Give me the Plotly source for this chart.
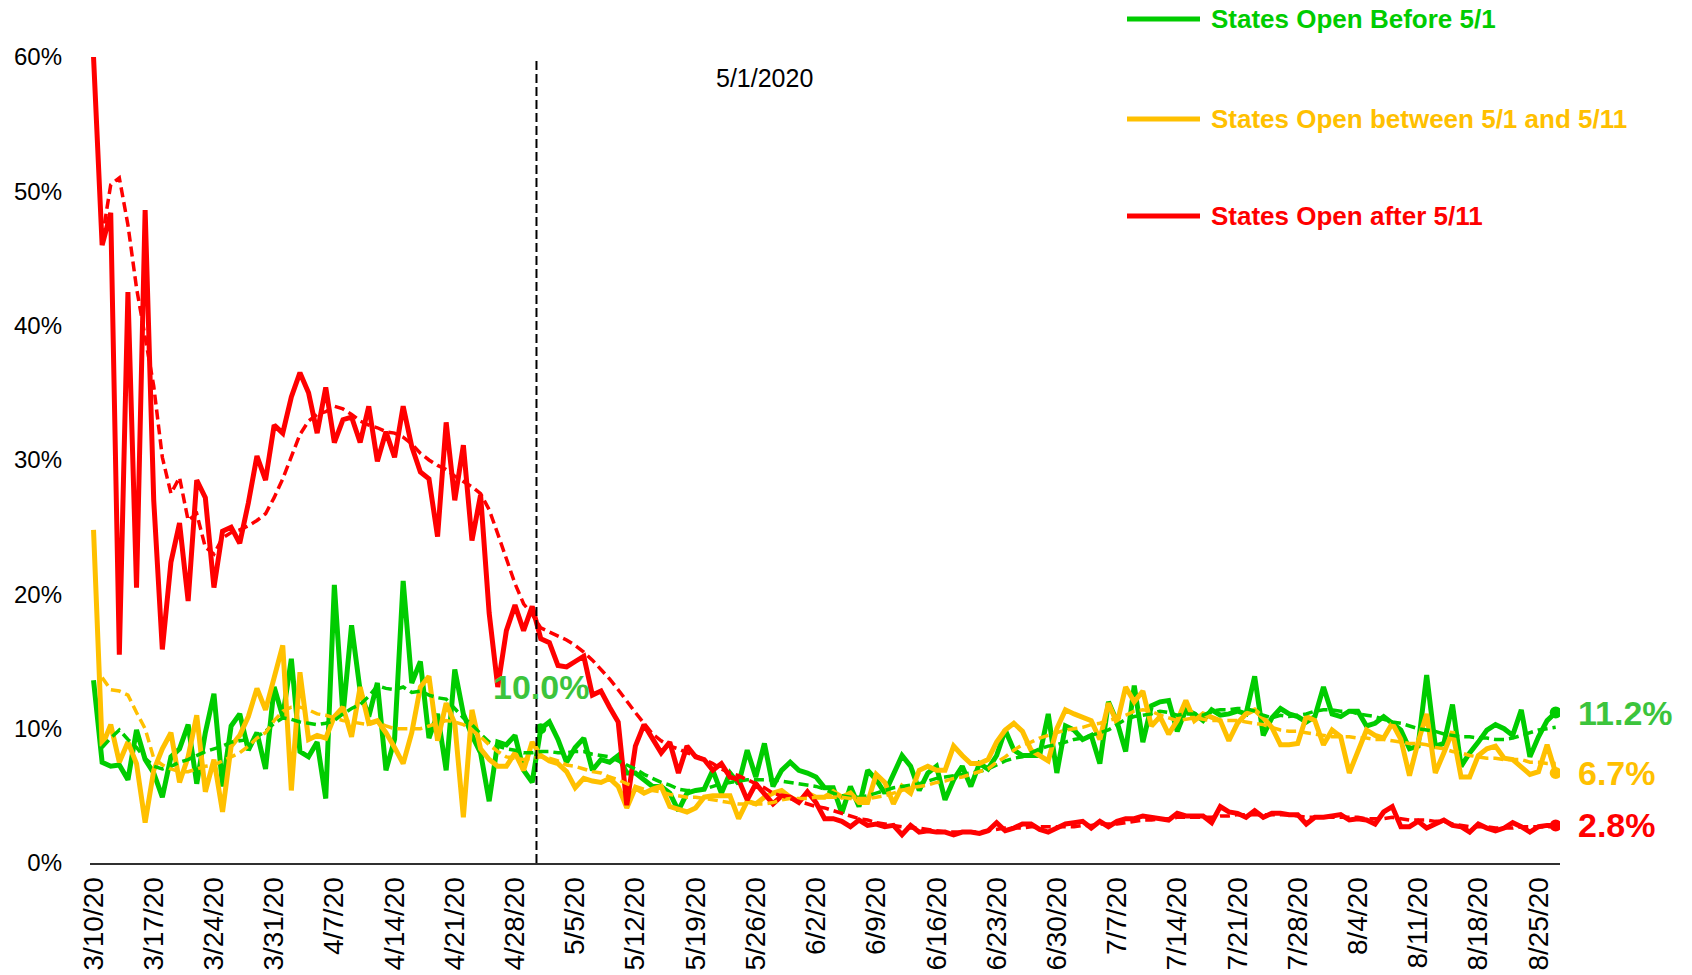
import pandas as pd
import plotly.graph_objects as go

# ---------------- data (percent) ----------------
START = "2020-03-10"
N_DAYS = 171

red = [
    60.0, 46.0, 48.4, 15.5, 42.5, 20.5, 48.6, 27.0, 15.9, 22.4,
    25.3, 19.5, 28.5, 27.2, 20.5, 24.7, 25.0, 23.8, 26.8, 30.3,
    28.5, 32.6, 32.0, 34.7, 36.5, 35.0, 32.0, 35.4, 31.3, 33.0,
    33.2, 31.3, 34.0, 29.9, 32.1, 30.2, 34.0, 31.0, 29.1, 28.6,
    24.3, 32.8, 27.0, 31.1, 24.0, 27.4, 18.6, 13.1, 17.3, 19.2,
    17.3, 19.1, 16.7, 16.4, 14.7, 14.6, 15.0, 15.4, 12.5, 12.8,
    11.6, 10.5, 4.3, 8.7, 10.3, 9.2, 8.2, 9.0, 6.7, 8.7,
    7.9, 7.7, 6.9, 7.4, 6.4, 6.2, 4.7, 5.9, 5.2, 4.4,
    5.0, 4.9, 4.5, 5.3, 4.5, 3.3, 3.3, 3.1, 2.7, 3.2,
    2.8, 2.9, 2.7, 2.8, 2.1, 2.8, 2.3, 2.4, 2.3, 2.3,
    2.1, 2.3, 2.3, 2.2, 2.4, 3.0, 2.4, 2.6, 2.9, 2.9,
    2.5, 2.3, 2.6, 2.9, 3.0, 3.1, 2.6, 3.1, 2.7, 3.1,
    3.3, 3.3, 3.5, 3.4, 3.3, 3.2, 3.7, 3.5, 3.5, 3.5,
    3.0, 4.2, 3.8, 3.7, 3.4, 3.9, 3.4, 3.7, 3.7, 3.6,
    3.6, 2.9, 3.4, 3.4, 3.5, 3.6, 3.2, 3.3, 3.2, 2.9,
    3.8, 4.2, 2.7, 2.7, 3.1, 2.6, 2.9, 3.2, 2.8, 2.7,
    2.3, 2.9, 2.6, 2.4, 2.6, 3.0, 2.7, 2.3, 2.7, 2.8,
    2.8,
]

red_avg = [
    None, 46.5, 50.5, 51.0, 47.5, 42.8, 39.0, 35.5, 30.2, 27.5,
    28.7, 25.5, 26.0, 23.5, 23.0, 24.2, 24.6, 24.8, 25.1, 25.5,
    26.0, 27.2, 28.6, 30.3, 31.9, 32.9, 33.4, 33.6, 34.0, 33.8,
    33.4, 32.9, 32.6, 32.4, 32.1, 32.0, 31.7, 31.2, 30.5, 30.0,
    29.6, 29.3, 28.8, 28.4, 28.0, 27.5, 26.3, 24.5, 22.7, 20.8,
    19.3, 18.5, 17.5, 17.2, 16.9, 16.6, 16.2, 15.7, 15.1, 14.4,
    13.7, 12.9, 12.0, 11.2, 10.4, 9.6, 9.1, 8.7, 8.5, 8.2,
    8.0, 7.7, 7.4, 7.0, 6.7, 6.5, 6.2, 5.9, 5.6, 5.2,
    5.0, 4.8, 4.6, 4.4, 4.2, 4.1, 3.9, 3.7, 3.5, 3.3,
    3.2, 3.0, 2.9, 2.8, 2.7, 2.6, 2.6, 2.5, 2.4, 2.3,
    2.3, 2.3, 2.3, 2.3, 2.4, 2.5, 2.6, 2.6, 2.6, 2.7,
    2.7, 2.7, 2.7, 2.7, 2.7, 2.8, 2.8, 2.9, 2.9, 2.9,
    3.0, 3.1, 3.2, 3.2, 3.3, 3.3, 3.4, 3.4, 3.4, 3.4,
    3.4, 3.5, 3.5, 3.6, 3.6, 3.6, 3.6, 3.6, 3.6, 3.6,
    3.5, 3.4, 3.4, 3.4, 3.4, 3.4, 3.4, 3.4, 3.3, 3.3,
    3.3, 3.4, 3.3, 3.2, 3.2, 3.2, 3.1, 3.1, 2.9, 2.8,
    2.7, 2.7, 2.7, 2.6, 2.6, 2.6, 2.7, 2.7, 2.7, 2.7,
    2.7,
]

green = [
    13.6, 7.5, 7.2, 7.3, 6.2, 9.9, 7.7, 6.7, 4.9, 7.9,
    8.5, 10.3, 5.9, 9.7, 12.6, 5.7, 10.2, 11.1, 8.4, 9.7,
    7.0, 13.1, 10.9, 15.2, 8.3, 7.9, 9.0, 4.8, 20.7, 11.0,
    17.7, 12.8, 10.9, 13.4, 6.9, 9.2, 21.0, 13.4, 15.0, 9.3,
    11.1, 6.9, 14.4, 11.1, 9.5, 8.2, 4.6, 9.0, 8.8, 9.5,
    6.9, 6.0, 10.0, 10.5, 9.2, 7.5, 8.6, 9.3, 6.9, 7.7,
    7.5, 8.0, 6.7, 6.7, 6.2, 5.7, 5.7, 5.2, 3.9, 5.2,
    5.4, 5.5, 6.9, 5.2, 6.7, 5.9, 8.4, 6.4, 8.9, 5.7,
    6.9, 7.5, 6.9, 6.7, 6.4, 5.6, 5.6, 3.7, 5.7, 4.2,
    6.9, 6.2, 5.2, 6.7, 8.0, 7.2, 5.4, 6.7, 7.2, 4.7,
    6.2, 7.2, 5.7, 7.4, 7.0, 8.0, 9.9, 8.4, 8.0, 8.0,
    8.0, 11.1, 6.7, 10.2, 9.9, 9.2, 9.5, 7.4, 12.0, 10.5,
    8.3, 13.2, 9.0, 11.7, 12.0, 12.1, 9.8, 11.4, 11.1, 10.6,
    11.4, 11.0, 11.1, 11.3, 11.1, 13.9, 9.5, 10.8, 11.5, 11.1,
    10.9, 10.5, 10.9, 13.1, 11.1, 10.9, 11.3, 11.3, 10.2, 10.4,
    10.9, 10.4, 9.9, 8.5, 8.7, 14.0, 8.7, 8.9, 11.8, 7.2,
    8.2, 9.0, 9.9, 10.3, 10.0, 9.5, 11.4, 7.9, 9.4, 10.6,
    11.2,
]

green_avg = [
    None, 8.6, 9.3, 9.9, 9.2, 8.6, 7.8, 7.2, 7.0, 7.2,
    7.5, 7.7, 8.0, 8.3, 8.5, 8.7, 9.0, 9.1, 9.2, 9.4,
    9.8, 10.4, 10.8, 10.7, 10.5, 10.4, 10.3, 10.4, 10.6, 11.1,
    11.5, 11.8, 12.4, 13.2, 13.0, 12.9, 13.1, 12.7, 12.8, 12.5,
    12.3, 12.2, 11.5, 10.8, 10.3, 9.6, 9.0, 8.7, 8.5, 8.4,
    8.2, 8.2, 8.3, 8.3, 8.2, 8.2, 8.3, 8.3, 8.1, 8.0,
    7.9, 7.6, 7.3, 7.0, 6.6, 6.3, 6.0, 5.8, 5.5, 5.4,
    5.4, 5.5, 5.7, 5.9, 6.0, 6.1, 6.2, 6.2, 6.2, 6.2,
    6.1, 6.0, 5.9, 5.8, 5.7, 5.5, 5.2, 5.0, 4.9, 4.9,
    5.0, 5.2, 5.4, 5.6, 5.7, 5.8, 5.9, 6.1, 6.3, 6.4,
    6.5, 6.6, 6.7, 6.8, 7.0, 7.3, 7.6, 7.8, 7.9, 8.2,
    8.5, 8.7, 8.8, 9.0, 9.2, 9.3, 9.5, 9.7, 9.9, 10.3,
    10.7, 10.9, 11.0, 11.1, 11.3, 11.2, 11.0, 11.1, 11.1, 11.0,
    11.3, 11.4, 11.4, 11.5, 11.5, 11.3, 11.0, 10.8, 11.0, 10.9,
    11.0, 11.1, 11.3, 11.4, 11.4, 11.3, 11.3, 11.1, 11.0, 10.9,
    10.7, 10.5, 10.4, 10.2, 10.0, 9.9, 9.8, 9.6, 9.5, 9.4,
    9.4, 9.3, 9.3, 9.2, 9.2, 9.3, 9.5, 9.7, 9.9, 10.0,
    10.1,
]

yellow = [
    24.8, 8.7, 10.3, 7.5, 9.0, 7.4, 3.0, 6.9, 8.5, 9.7,
    6.0, 7.9, 11.0, 5.3, 7.7, 3.8, 8.7, 9.5, 10.9, 13.0,
    11.4, 13.8, 16.2, 5.4, 14.2, 9.2, 9.5, 9.3, 10.9, 11.6,
    9.4, 13.1, 10.4, 10.6, 9.7, 8.6, 7.4, 9.7, 13.1, 13.9,
    9.1, 11.9, 10.4, 3.4, 11.4, 8.5, 7.7, 7.2, 7.2, 8.2,
    6.9, 9.0, 8.0, 7.6, 7.4, 6.8, 5.6, 6.3, 6.1, 6.0,
    6.3, 5.7, 4.1, 5.6, 5.2, 5.5, 5.7, 4.2, 4.0, 3.8,
    4.1, 4.9, 5.0, 5.0, 5.0, 3.3, 4.6, 4.4, 4.9, 5.2,
    5.4, 4.9, 4.6, 5.2, 4.9, 4.9, 5.3, 4.9, 5.2, 4.5,
    4.5, 6.6, 6.0, 4.4, 5.7, 5.2, 6.9, 7.2, 6.9, 6.9,
    8.7, 8.0, 7.4, 7.4, 7.7, 9.0, 9.9, 10.4, 9.8, 8.4,
    8.0, 7.6, 10.0, 11.4, 11.1, 10.8, 10.6, 9.2, 11.9, 10.4,
    13.1, 12.0, 12.8, 10.2, 10.9, 9.6, 10.6, 12.1, 10.6, 11.1,
    10.8, 10.6, 9.1, 10.4, 11.1, 11.4, 10.8, 10.1, 8.8, 8.8,
    8.9, 10.9, 10.6, 8.8, 9.9, 9.4, 6.7, 8.2, 9.9, 9.5,
    9.3, 10.4, 9.2, 6.5, 9.0, 11.1, 6.7, 8.2, 9.8, 6.4,
    6.4, 8.0, 8.5, 8.7, 7.8, 7.7, 7.2, 6.6, 6.8, 8.8,
    6.7,
]

yellow_avg = [
    None, 13.8, 12.9, 12.8, 12.5, 11.2, 10.0, 7.8, 7.3, 7.0,
    6.8, 6.8, 7.0, 7.2, 7.3, 7.6, 7.9, 8.2, 8.7, 9.3,
    9.7, 10.6, 11.3, 11.6, 11.6, 11.4, 11.1, 11.0, 10.8, 10.6,
    10.5, 10.4, 10.3, 10.5, 10.2, 10.0, 10.0, 10.0, 10.0, 10.2,
    10.4, 10.6, 10.5, 10.3, 9.9, 9.4, 8.8, 8.3, 7.9, 7.8,
    7.7, 7.8, 7.9, 7.8, 7.6, 7.3, 7.2, 7.0, 6.8, 6.7,
    6.4, 6.2, 5.9, 5.7, 5.5, 5.4, 5.3, 5.1, 5.0, 4.9,
    4.9, 4.8, 4.7, 4.6, 4.5, 4.4, 4.4, 4.4, 4.4, 4.5,
    4.7, 4.8, 4.8, 4.8, 4.9, 4.9, 4.9, 4.9, 4.8, 4.8,
    4.8, 4.9, 5.0, 5.2, 5.4, 5.6, 5.7, 5.8, 6.0, 6.1,
    6.3, 6.4, 6.6, 6.8, 7.0, 7.5, 7.9, 8.4, 8.8, 9.0,
    9.3, 9.5, 9.7, 9.9, 10.0, 10.1, 10.3, 10.4, 10.6, 10.8,
    11.0, 11.3, 11.4, 11.3, 11.0, 10.8, 10.6, 10.7, 10.8, 10.7,
    10.6, 10.6, 10.6, 10.6, 10.5, 10.4, 10.3, 10.1, 9.9, 9.8,
    9.8, 9.7, 9.6, 9.5, 9.4, 9.4, 9.4, 9.3, 9.3, 9.2,
    9.2, 9.1, 9.0, 8.9, 8.9, 8.8, 8.6, 8.5, 8.3, 8.2,
    8.0, 7.9, 7.8, 7.8, 7.7, 7.7, 7.7, 7.5, 7.5, 7.4,
    7.4,
]

tick_labels = [
    "3/10/20", "3/17/20", "3/24/20", "3/31/20", "4/7/20", "4/14/20", "4/21/20",
    "4/28/20", "5/5/20", "5/12/20", "5/19/20", "5/26/20", "6/2/20", "6/9/20",
    "6/16/20", "6/23/20", "6/30/20", "7/7/20", "7/14/20", "7/21/20", "7/28/20",
    "8/4/20", "8/11/20", "8/18/20", "8/25/20",
]
y_ticks = [0, 10, 20, 30, 40, 50, 60]

series_names = ["States Open Before 5/1", "States Open between 5/1 and 5/11", "States Open after 5/11"]
REOPEN_LABEL = "5/1/2020"
REOPEN_DATE = "2020-05-01"

# ---------------- styling ----------------
GREEN, YELLOW, RED = "#00CC00", "#FFC000", "#FF0000"
GREEN_LABEL = "#3CC43C"
BOLD = "Liberation Sans, Arial, sans-serif"
BASE = "Liberation Sans, Arial, sans-serif"

W, H = 1692, 975
ML, MR, MT, MB = 90, 132, 57, 112
PW, PH = W - ML - MR, H - MT - MB

def px(x):
    return (x - ML) / PW

def py(y):
    return (H - MB - y) / PH

dates = pd.date_range(START, periods=N_DAYS, freq="D")
tick_dates = pd.date_range(START, periods=len(tick_labels), freq="7D")
day = pd.Timedelta(days=1)
x_range = [dates[0] - 0.41 * day, dates[-1] + 0.5 * day]

fig = go.Figure()

for vals, col in [(green, GREEN), (yellow, YELLOW), (red, RED)]:
    fig.add_trace(go.Scatter(x=dates, y=vals, mode="lines",
                             line=dict(color=col, width=5), hoverinfo="skip"))
for vals, col in [(green_avg, GREEN), (yellow_avg, YELLOW), (red_avg, RED)]:
    fig.add_trace(go.Scatter(x=dates, y=vals, mode="lines",
                             line=dict(color=col, width=3.5, dash="10px,5px"), hoverinfo="skip"))

# highlighted points
i51 = list(dates).index(pd.Timestamp(REOPEN_DATE))
fig.add_trace(go.Scatter(x=[dates[i51]], y=[green[i51]], mode="markers",
                         marker=dict(color=GREEN, size=11), hoverinfo="skip"))
last = N_DAYS - 1
for vals, col in [(green, GREEN), (yellow, YELLOW), (red, RED)]:
    fig.add_trace(go.Scatter(x=[dates[last]], y=[vals[last]], mode="markers",
                             marker=dict(color=col, size=12), hoverinfo="skip"))

annotations = []
annotations.append(dict(x=dates[i51], y=green[i51], xref="x", yref="y",
                        text=f"<b>{green[i51]:.1f}%</b>", showarrow=False,
                        xanchor="center", yanchor="middle", yshift=42,
                        font=dict(family=BOLD, size=34, color=GREEN_LABEL)))
for vals, col in [(green, GREEN_LABEL), (yellow, YELLOW), (red, RED)]:
    annotations.append(dict(x=dates[last], y=vals[last], xref="x", yref="y",
                            text=f"<b>{vals[last]:.1f}%</b>", showarrow=False,
                            xanchor="left", yanchor="middle", xshift=20,
                            font=dict(family=BOLD, size=34, color=col)))

annotations.append(dict(x=px(764), y=py(78), xref="paper", yref="paper",
                        text=REOPEN_LABEL, showarrow=False, xanchor="center", yanchor="middle",
                        font=dict(family=BASE, size=25, color="black")))

shapes = [dict(type="line", xref="x", yref="paper",
               x0=pd.Timestamp(REOPEN_DATE) - 0.5 * day, x1=pd.Timestamp(REOPEN_DATE) - 0.5 * day,
               y0=0, y1=1, line=dict(color="black", width=2, dash="9px,4px"))]

# legend (manual)
for name, col, yy in zip(series_names, [GREEN, YELLOW, RED], [19, 119, 216]):
    shapes.append(dict(type="line", xref="paper", yref="paper",
                       x0=px(1127), x1=px(1200), y0=py(yy), y1=py(yy),
                       line=dict(color=col, width=5)))
    annotations.append(dict(x=px(1209), y=py(yy), xref="paper", yref="paper",
                            text=f"<b>{name}</b>", showarrow=False,
                            xanchor="left", yanchor="middle",
                            font=dict(family=BOLD, size=26, color=col)))

fig.update_layout(
    width=W, height=H, autosize=False,
    margin=dict(l=ML, r=MR, t=MT, b=MB),
    plot_bgcolor="white", paper_bgcolor="white",
    showlegend=False,
    font=dict(family=BASE, color="black"),
    annotations=annotations,
    shapes=shapes,
)
fig.update_xaxes(
    type="date", range=x_range, showgrid=False, zeroline=False,
    showline=True, linecolor="#303030", linewidth=2,
    tickmode="array", tickvals=tick_dates, ticktext=tick_labels,
    tickangle=-90, ticks="", tickfont=dict(family=BASE, size=28, color="black"),
    ticklabelstandoff=1, automargin=False,
)
fig.update_yaxes(
    range=[0, 60], showgrid=False, zeroline=False, showline=False,
    tickmode="array", tickvals=y_ticks, ticktext=[f"{v}%" for v in y_ticks],
    ticks="", tickfont=dict(family=BASE, size=24, color="black"),
    ticklabelstandoff=27, automargin=False,
)

fig.write_html("out.html", config={"displayModeBar": False},
               post_script="document.body.style.margin='0px';document.body.style.overflow='hidden';")
